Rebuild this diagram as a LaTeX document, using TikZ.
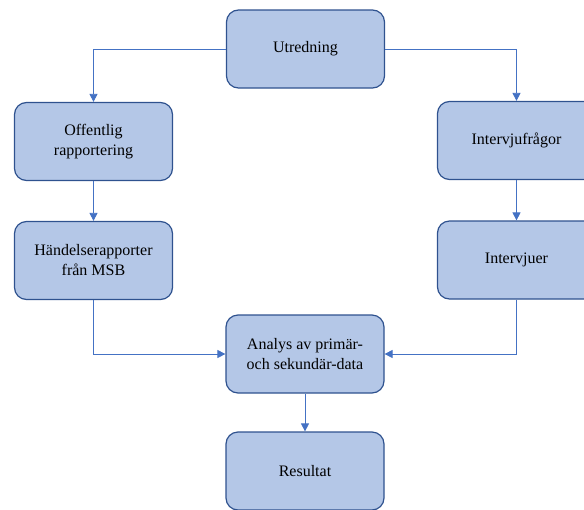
\documentclass[tikz,border=0pt]{standalone}
\usepackage{fontspec}
\setmainfont{Liberation Serif}
\usetikzlibrary{arrows.meta}
\definecolor{boxfill}{HTML}{B4C7E7}
\definecolor{boxdraw}{HTML}{2F528F}
\definecolor{linecol}{HTML}{4472C4}
\tikzset{
  box/.style={draw=boxdraw, fill=boxfill, line width=1.2pt, rounded corners=12pt,
    minimum width=158pt, minimum height=78pt, align=center, inner sep=2pt,
    font=\fontsize{16}{20}\selectfont, text=black},
  conn/.style={draw=linecol, line width=0.8pt, -{Triangle[length=8pt,width=8pt]}}
}
\begin{document}
\begin{tikzpicture}[x=1pt,y=-1pt]
\useasboundingbox (0,0) rectangle (584,509);
\clip (0,0) rectangle (584,509);
\node[box] (u) at (305.5,49) {Utredning};
\node[box] (o) at (93.5,141.5) {Offentlig\\rapportering};
\node[box] (h) at (93.5,260.5) {Händelserapporter\\från MSB};
\node[box] (f) at (516.5,140.5) {Intervjufrågor};
\node[box] (i) at (516.5,260) {Intervjuer};
\node[box] (a) at (305,354) {Analys av primär-\\och sekundär-data};
\node[box] (r) at (305,471) {Resultat};
\draw[conn] (u.west) -| (o.north);
\draw[conn] (u.east) -| (f.north);
\draw[conn] (o) -- (h);
\draw[conn] (f) -- (i);
\draw[conn] (h.south) |- (a.west);
\draw[conn] (i.south) |- (a.east);
\draw[conn] (a) -- (r);
\end{tikzpicture}
\end{document}
